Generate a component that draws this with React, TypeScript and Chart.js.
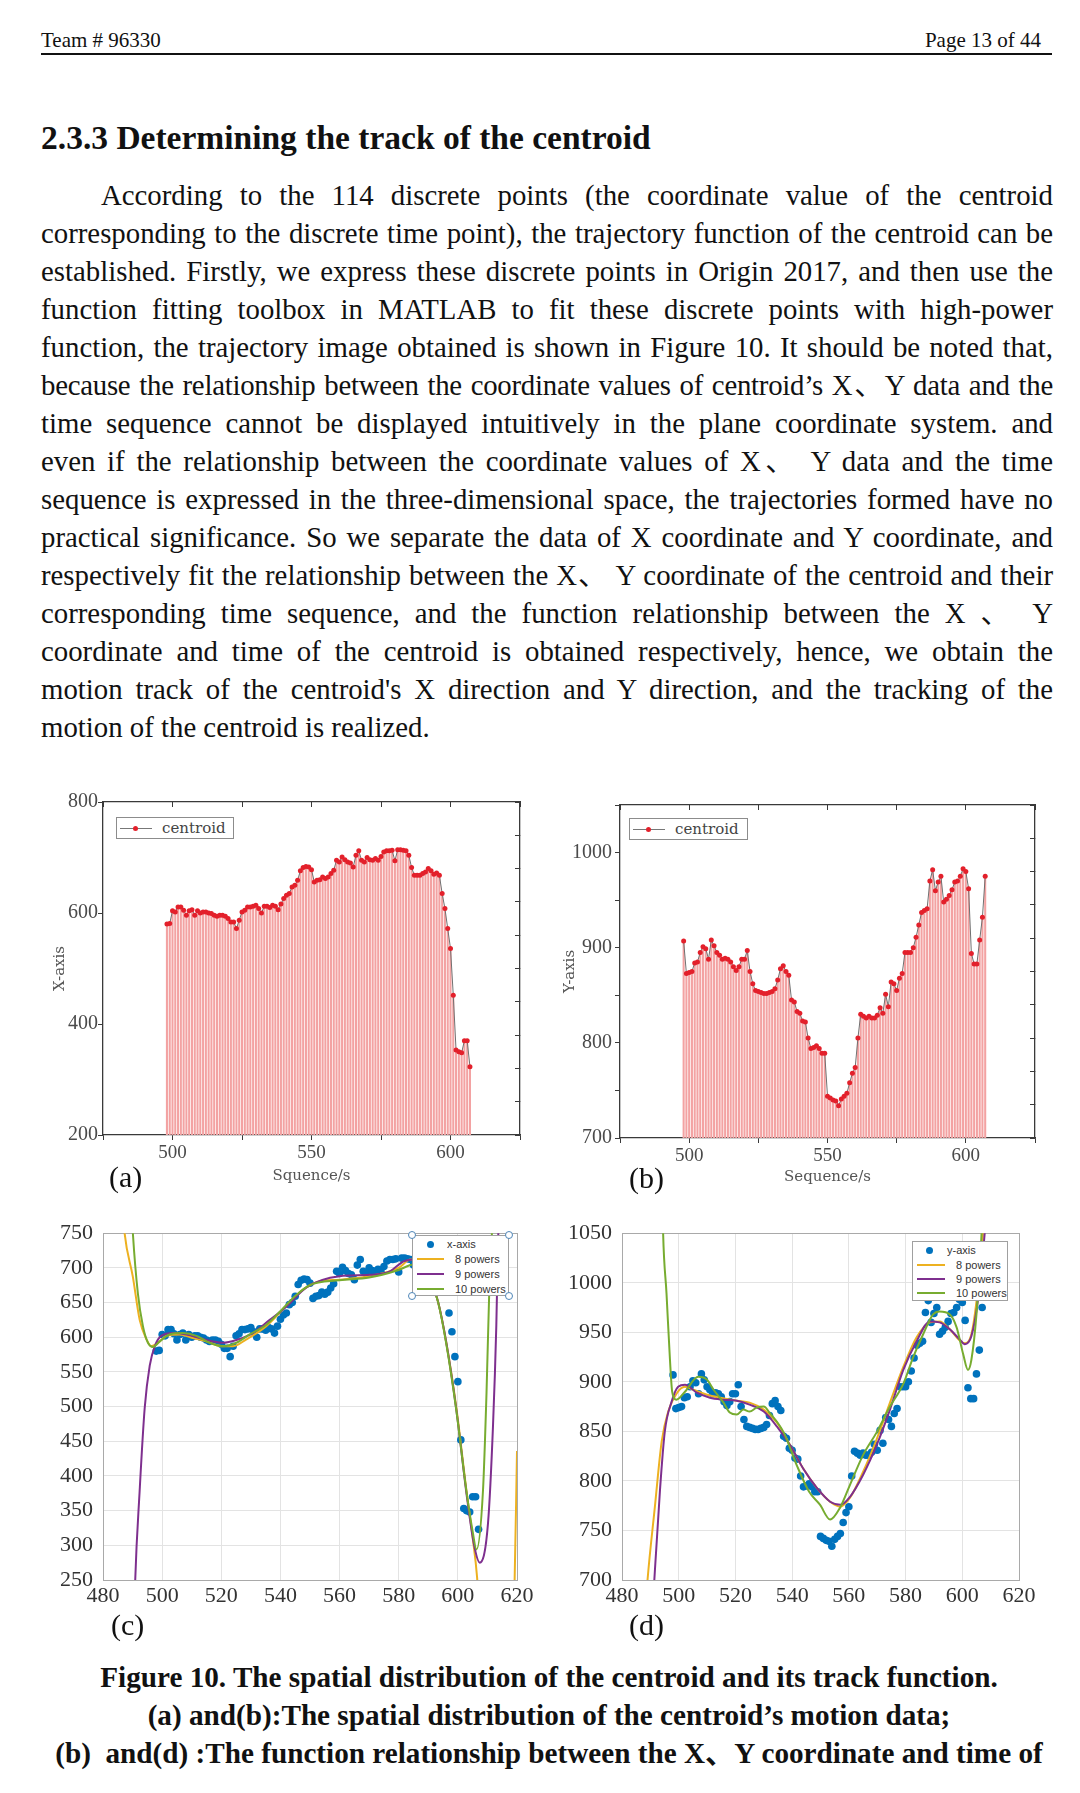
import React, { useEffect, useRef } from 'react';
import { Chart, registerables } from 'chart.js';

Chart.register(...registerables);

// ---------- data ----------
const seconds = [
  498, 499, 500, 501, 502, 503, 504, 505, 506, 507,
  508, 509, 510, 511, 512, 513, 514, 515, 516, 517,
  518, 519, 520, 521, 522, 523, 524, 525, 526, 527,
  528, 529, 530, 531, 532, 533, 534, 535, 536, 537,
  538, 539, 540, 541, 542, 543, 544, 545, 546, 547,
  548, 549, 550, 551, 552, 553, 554, 555, 556, 557,
  558, 559, 560, 561, 562, 563, 564, 565, 566, 567,
  568, 569, 570, 571, 572, 573, 574, 575, 576, 577,
  578, 579, 580, 581, 582, 583, 584, 585, 586, 587,
  588, 589, 590, 591, 592, 593, 594, 595, 596, 597,
  598, 599, 600, 601, 602, 603, 604, 605, 606, 607,
];

const xCoord = [
  580, 581, 604, 602, 611, 611, 605, 596, 604, 606,
  596, 604, 600, 602, 602, 600, 599, 596, 594, 596,
  596, 594, 590, 584, 584, 572, 587, 602, 605, 611,
  611, 612, 614, 608, 600, 612, 612, 610, 614, 612,
  606, 616, 626, 632, 635, 647, 650, 659, 676, 682,
  684, 683, 678, 656, 659, 660, 665, 662, 665, 671,
  677, 695, 692, 701, 696, 692, 690, 683, 704, 712,
  695, 692, 700, 696, 695, 698, 695, 702, 710, 712,
  712, 713, 694, 714, 714, 713, 712, 704, 682, 668,
  668, 668, 671, 674, 680, 676, 670, 672, 668, 635,
  608, 572, 536, 452, 353, 350, 348, 370, 370, 323,
];

const yCoord = [
  907, 873, 874, 875, 884, 885, 895, 901, 899, 888,
  908, 902, 895, 892, 888, 889, 888, 885, 880, 876,
  880, 888, 888, 897, 875, 862, 855, 854, 853, 852,
  852, 853, 854, 857, 866, 878, 881, 875, 871, 845,
  843, 833, 831, 823, 822, 805, 794, 795, 797, 794,
  789, 789, 744, 742, 740, 739, 734, 741, 744, 747,
  758, 768, 774, 805, 830, 828, 826, 828, 826, 826,
  829, 837, 831, 851, 838, 864, 862, 855, 868, 873,
  895, 895, 895, 900, 911, 924, 937, 939, 941, 970,
  982, 960, 969, 975, 948, 951, 955, 961, 969, 970,
  975, 983, 980, 962, 894, 883, 883, 908, 932, 975,
];

// fitted curves: X coordinate
const fitX8Sec = [486, 487.3, 490.1, 492.4, 494.7, 496.3, 498.6, 501.4, 505.9, 510.4, 514.9, 520.6, 524, 528.5, 535.2, 539.7, 544.3, 548.8, 552.7, 560, 570, 580, 584, 588, 591, 593.3, 596.1, 599.5, 602.9, 605.1, 606.5, 608, 617, 619.2, 620, 620.5];
const fitX8Val = [820, 750, 687, 625, 597, 587, 592, 602, 604, 599, 594, 587, 587, 597, 616, 635, 656, 672, 680, 683, 688, 700, 712, 708, 680, 651, 592, 498, 379, 308, 254, 150, 150, 250, 436, 540];
const fitX9Sec = [490.5, 490.9, 492.4, 494.1, 495.8, 497.5, 499.7, 503.7, 508.2, 512.7, 517.2, 520.6, 525.1, 530.7, 536.4, 542, 548.8, 560, 570, 577, 582, 587, 590, 593.3, 596.1, 599.5, 602.9, 605.5, 607.4, 610.2, 611.9, 613, 613.6, 614.2];
const fitX9Val = [180, 250, 379, 498, 559, 587, 602, 606, 604, 599, 594, 592, 596, 606, 625, 644, 672, 688, 690, 695, 710, 712, 690, 651, 592, 495, 375, 300, 275, 332, 474, 616, 738, 800];
const fitX10Sec = [489.5, 490.1, 491.8, 493.5, 495.2, 496.9, 499.2, 502.5, 507, 511.6, 516, 520.6, 525.1, 529.6, 535.2, 540.3, 545.4, 549.9, 560, 570, 580, 585, 588, 591, 593.3, 596.1, 599.5, 602.9, 605, 606.3, 608.5, 609.7, 610.6, 611.4, 612];
const fitX10Val = [800, 750, 663, 616, 592, 586, 594, 604, 606, 602, 592, 587, 592, 604, 618, 639, 661, 675, 682, 686, 697, 705, 703, 680, 651, 590, 494, 378, 320, 294, 379, 521, 663, 738, 800];

// fitted curves: Y coordinate
const fitY8Sec = [488.5, 489, 491.6, 494, 496.3, 499.2, 502.2, 505.2, 510, 514.6, 520.5, 525, 530, 534.6, 539.3, 544, 548.7, 553.4, 557, 560.4, 565, 569.8, 574.5, 579.2, 583.9, 588.6, 592, 595.6, 599, 600.9, 603.2, 605, 607.3, 608];
const fitY8Val = [680, 700, 774, 840, 870, 888, 895, 892, 887, 884, 881, 879, 872, 859, 836, 812, 793, 779, 774, 783, 809, 842, 879, 915, 945, 960, 961, 953, 942, 939, 948, 981, 1050, 1080];
const fitY9Sec = [491, 491.4, 493.4, 495.1, 497.5, 499.8, 502.2, 506.4, 511, 515.8, 520.5, 525, 530, 534.6, 539.3, 544, 548.7, 553.4, 557, 560.4, 565, 569.8, 574.5, 579.2, 583.9, 588.6, 592, 595.6, 599, 600.9, 603.2, 605.6, 607.9, 608.5];
const fitY9Val = [680, 700, 791, 850, 880, 895, 897, 889, 884, 882, 881, 877, 870, 855, 836, 812, 793, 779, 776, 784, 806, 836, 872, 912, 941, 961, 960, 953, 943, 938, 946, 984, 1050, 1080];
const fitY10Sec = [494.3, 494.5, 495.7, 496.9, 497.7, 499.2, 502.2, 506.9, 510, 512.3, 515.8, 518, 520.5, 522.8, 525, 527.5, 530, 532, 537, 541.6, 546, 549.8, 553.4, 556.9, 560.4, 565, 569.8, 574.5, 579.2, 582.7, 586.2, 589.7, 592, 595.6, 598, 600.3, 602, 603.2, 605, 606.8, 607.2];
const fitY10Val = [1080, 1050, 989, 923, 890, 882, 890, 905, 902, 892, 879, 869, 867, 872, 870, 874, 875, 869, 849, 816, 789, 776, 761, 773, 796, 826, 849, 875, 898, 925, 948, 968, 971, 968, 955, 928, 912, 922, 968, 1050, 1080];

const originXTicks = [500, 550, 600];

const paragraphLines = [
  'According to the 114 discrete points (the coordinate value of the centroid',
  'corresponding to the discrete time point), the trajectory function of the centroid can be',
  'established. Firstly, we express these discrete points in Origin 2017, and then use the',
  'function fitting toolbox in MATLAB to fit these discrete points with high-power',
  'function, the trajectory image obtained is shown in Figure 10. It should be noted that,',
  'because the relationship between the coordinate values of centroid\u2019s X\u3001Y data and the',
  'time sequence cannot be displayed intuitively in the plane coordinate system. and',
  'even if the relationship between the coordinate values of X\u3001 Y data and the time',
  'sequence is expressed in the three-dimensional space, the trajectories formed have no',
  'practical significance. So we separate the data of X coordinate and Y coordinate, and',
  'respectively fit the relationship between the X\u3001 Y coordinate of the centroid and their',
  'corresponding time sequence, and the function relationship between the X \u3001 Y',
  'coordinate and time of the centroid is obtained respectively, hence, we obtain the',
  'motion track of the centroid\'s X direction and Y direction, and the tracking of the',
  'motion of the centroid is realized.',
];

const captionLines = [
  'Figure 10. The spatial distribution of the centroid and its track function.',
  '(a) and(b):The spatial distribution of the centroid\u2019s motion data;',
  '(b)  and(d) :The function relationship between the X\u3001Y coordinate and time of',
];

// ---------- styling constants ----------
const SERIF = '"Liberation Serif", "Times New Roman", "Noto Sans CJK SC", serif';
const ORIGIN_FONT = '"DejaVu Serif", serif';
const SANS = '"Liberation Sans", Arial, sans-serif';
const C8 = '#EDB120';
const C9 = '#7E2F8E';
const C10 = '#77AC30';
const CDOT = '#0072BD';

const toPts = (xs: number[], ys: number[]) => xs.map((x, i) => ({ x, y: ys[i] }));

function originConfig(values: number[], o: any): any {
  const data = toPts(seconds, values);
  const axisColor = '#3a3a3a';
  const tickFontX = { family: SERIF, size: 19 };
  const tickFontY = { family: SERIF, size: 20 };
  return {
    type: 'bar',
    data: {
      datasets: [
        {
          type: 'line', label: 'centroid', data, borderColor: '#707070', borderWidth: 1,
          pointRadius: 2.5, pointBackgroundColor: '#e3202b', pointBorderColor: '#e3202b', pointBorderWidth: 0,
          order: 0, xAxisID: 'x', yAxisID: 'y',
        },
        {
          type: 'bar', label: 'drop', data, backgroundColor: '#f3a2a2', barThickness: 1.4,
          order: 1, xAxisID: 'x', yAxisID: 'y',
        },
      ],
    },
    options: {
      responsive: false, animation: false, events: [],
      layout: { padding: { top: o.padTop, right: o.padRight, left: 0, bottom: 0 } },
      plugins: { legend: { display: false }, tooltip: { enabled: false } },
      scales: {
        x: {
          type: 'linear', position: 'bottom', min: 475, max: 625, offset: false,
          ticks: {
            stepSize: 25, autoSkip: false, maxRotation: 0, minRotation: 0, color: '#4a4a4a', font: tickFontX, padding: 2,
            callback: (v: number) => (originXTicks.includes(v) ? String(v) : ''),
          },
          grid: { drawOnChartArea: false, offset: false, tickLength: 5, color: axisColor },
          border: { color: axisColor, width: 1.3 },
          title: { display: true, text: o.xTitle, color: '#555', font: { family: ORIGIN_FONT, size: 15 }, padding: { top: 0, bottom: o.xTitlePad } },
          afterFit: (s: any) => { s.height = o.xHeight; },
        },
        x2: {
          type: 'linear', position: 'top', min: 475, max: 625, offset: false,
          ticks: { display: false, stepSize: 25 },
          grid: { drawOnChartArea: false, offset: false, tickLength: -5, color: axisColor },
          border: { color: axisColor, width: 1.3 },
          afterFit: (s: any) => { s.height = 0; },
        },
        y: {
          type: 'linear', position: 'left', min: o.yMin, max: o.yMax,
          ticks: {
            stepSize: o.yStep, color: '#4a4a4a', font: tickFontY, padding: o.yLabelPad,
            callback: (v: number) => (o.yLabels.includes(v) ? String(v) : ''),
          },
          grid: { drawOnChartArea: false, tickLength: 5, color: axisColor },
          border: { color: axisColor, width: 1.3 },
          title: { display: true, text: o.yTitle, color: '#555', font: { family: ORIGIN_FONT, size: 15 }, padding: { top: o.yTitlePad, bottom: 0 } },
          afterFit: (s: any) => { s.width = o.yWidth; },
        },
        y2: {
          type: 'linear', position: 'right', min: o.yMin, max: o.yMax,
          ticks: { display: false, stepSize: (o.yMax - o.yMin) / 10 },
          grid: { drawOnChartArea: false, tickLength: -5, color: axisColor },
          border: { color: axisColor, width: 1.3 },
          afterFit: (s: any) => { s.width = 0; },
        },
      },
    },
  };
}

function matlabConfig(values: number[], fits: any[], o: any): any {
  const tickFont = { family: SERIF, size: 22 };
  const gridColor = '#e3e3e3';
  const boxColor = '#a9a9a9';
  return {
    type: 'scatter',
    data: {
      datasets: [
        {
          label: o.dotLabel, data: toPts(seconds, values), showLine: false,
          pointRadius: 3.8, pointBackgroundColor: CDOT, pointBorderColor: CDOT, pointBorderWidth: 0, order: 4,
        },
        ...fits.map((f: any, i: number) => ({
          label: f.label, data: toPts(f.xs, f.ys), showLine: true, borderColor: f.color, backgroundColor: f.color,
          borderWidth: 2, pointRadius: 0, cubicInterpolationMode: 'monotone', fill: false, order: 3 - i,
        })),
      ],
    },
    options: {
      responsive: false, animation: false, events: [],
      layout: { padding: { top: o.padTop, right: o.padRight, left: 0, bottom: 0 } },
      plugins: { legend: { display: false }, tooltip: { enabled: false } },
      scales: {
        x: {
          type: 'linear', position: 'bottom', min: 480, max: 620,
          ticks: { stepSize: 20, autoSkip: false, maxRotation: 0, minRotation: 0, color: '#333', font: tickFont, padding: 3, callback: (v: number) => String(v) },
          grid: { color: gridColor, drawTicks: false },
          border: { color: boxColor },
          afterFit: (s: any) => { s.height = 35; },
        },
        x2: {
          type: 'linear', position: 'top', min: 480, max: 620,
          ticks: { display: false }, grid: { display: false }, border: { color: boxColor },
          afterFit: (s: any) => { s.height = 0; },
        },
        y: {
          type: 'linear', position: 'left', min: o.yMin, max: o.yMax,
          ticks: { stepSize: 50, autoSkip: false, color: '#333', font: tickFont, padding: 10, callback: (v: number) => String(v) },
          grid: { color: gridColor, drawTicks: false },
          border: { color: boxColor },
          afterFit: (s: any) => { s.width = o.yWidth; },
        },
        y2: {
          type: 'linear', position: 'right', min: o.yMin, max: o.yMax,
          ticks: { display: false }, grid: { display: false }, border: { color: boxColor },
          afterFit: (s: any) => { s.width = 0; },
        },
      },
    },
  };
}

function ChartCanvas({ left, top, width, height, make }: any) {
  const ref = useRef<HTMLCanvasElement | null>(null);
  useEffect(() => {
    const chart = new Chart(ref.current as HTMLCanvasElement, make());
    return () => chart.destroy();
  }, []);
  return (
    <canvas ref={ref} width={width} height={height}
      style={{ position: 'absolute', left, top, width, height, display: 'block' }} />
  );
}

function Line({ x, y, w, size, lh, bold, align, children, family }: any) {
  return (
    <div style={{
      position: 'absolute', left: x, top: y - lh / 2, width: w, height: lh, lineHeight: `${lh}px`,
      fontSize: size, fontWeight: bold ? 'bold' : 'normal', textAlign: align || 'left',
      whiteSpace: 'pre', fontFamily: family || SERIF,
    }}>{children}</div>
  );
}

function OriginLegend({ left, top, width }: any) {
  return (
    <div style={{ position: 'absolute', left, top, width, height: 22, boxSizing: 'border-box', border: '1px solid #8c8c8c', background: '#fff' }}>
      <div style={{ position: 'absolute', left: 3, top: 10, width: 32, height: 1, background: '#777' }} />
      <div style={{ position: 'absolute', left: 16, top: 8, width: 5, height: 5, borderRadius: '50%', background: '#e3202b' }} />
      <div style={{ position: 'absolute', left: 45, top: 0, height: 20, lineHeight: '20px', fontFamily: ORIGIN_FONT, fontSize: 15, color: '#444' }}>centroid</div>
    </div>
  );
}

function MatlabLegend({ left, top, width, height, rows, dotLabel, handles }: any) {
  const entries = [
    { label: '8 powers', color: C8 },
    { label: '9 powers', color: C9 },
    { label: '10 powers', color: C10 },
  ];
  const handle = (hx: number, hy: number, k: number) => (
    <div key={k} style={{ position: 'absolute', left: hx - 4, top: hy - 4, width: 8, height: 8, boxSizing: 'border-box', borderRadius: '50%', border: '1.5px solid #4f86b8', background: '#fff' }} />
  );
  return (
    <div style={{ position: 'absolute', left, top, width, height }}>
      <div style={{ position: 'absolute', left: 0, top: 0, width, height, boxSizing: 'border-box', border: '1px solid #a0a0a0', background: '#fff' }} />
      <div style={{ position: 'absolute', left: rows.dotX - 3.5, top: rows.y[0] - 3.5, width: 7, height: 7, borderRadius: '50%', background: CDOT }} />
      <div style={{ position: 'absolute', left: rows.textX0, top: rows.y[0] - 7, lineHeight: '14px', fontFamily: SANS, fontSize: 11, color: '#333' }}>{dotLabel}</div>
      {entries.map((e, i) => (
        <React.Fragment key={e.label}>
          <div style={{ position: 'absolute', left: rows.lineX, top: rows.y[i + 1] - 1, width: rows.lineW, height: 2, background: e.color }} />
          <div style={{ position: 'absolute', left: rows.textX, top: rows.y[i + 1] - 7, lineHeight: '14px', fontFamily: SANS, fontSize: 11, color: '#333', whiteSpace: 'pre' }}>{e.label}</div>
        </React.Fragment>
      ))}
      {handles ? [handle(0, 0, 1), handle(width, 0, 2), handle(0, height, 3), handle(width, height, 4)] : null}
    </div>
  );
}

export default function App() {
  const lineCenter0 = 194.5;
  const lineStep = 38;
  return (
    <div style={{ position: 'absolute', left: 0, top: 0, width: 1080, height: 1793, background: '#fff', color: '#111', fontFamily: SERIF, overflow: 'hidden' }}>
      {/* header */}
      <Line x={41} y={40} w={300} size={21} lh={26}>Team # 96330</Line>
      <Line x={741} y={40} w={300} size={21} lh={26} align="right">Page 13 of 44</Line>
      <div style={{ position: 'absolute', left: 41, top: 53, width: 1011, height: 2, background: '#111' }} />

      {/* section title */}
      <Line x={41} y={138} w={900} size={33.5} lh={40} bold>2.3.3 Determining the track of the centroid</Line>

      {/* paragraph */}
      {paragraphLines.map((t, i) => {
        const last = i === paragraphLines.length - 1;
        const left = i === 0 ? 101 : 41;
        return (
          <div key={i} style={{
            position: 'absolute', left, top: lineCenter0 + i * lineStep - 19, width: 1053 - left, height: 38,
            lineHeight: '38px', fontSize: 28.8, textAlign: last ? 'left' : 'justify', textAlignLast: last ? 'left' : 'justify',
            letterSpacing: i === 5 ? '-0.25px' : 'normal', overflow: 'visible',
          } as any}>{t}</div>
        );
      })}

      {/* chart (a) */}
      <ChartCanvas left={40} top={790} width={495} height={405} make={() => originConfig(xCoord, {
        padTop: 12, padRight: 15, xHeight: 60, yWidth: 63, yMin: 200, yMax: 800, yStep: 200, yLabels: [200, 400, 600, 800],
        yLabelPad: 0, xTitle: 'Squence/s', yTitle: 'X-axis', xTitlePad: 9.6, yTitlePad: 11.6,
      })} />
      <OriginLegend left={116} top={817} width={118} />
      <Line x={109} y={1177} w={60} size={30} lh={36}>(a)</Line>

      {/* chart (b) */}
      <ChartCanvas left={555} top={790} width={495} height={405} make={() => originConfig(yCoord, {
        padTop: 13, padRight: 15, xHeight: 57, yWidth: 65, yMin: 700, yMax: 1050, yStep: 50, yLabels: [700, 800, 900, 1000],
        yLabelPad: 3, xTitle: 'Sequence/s', yTitle: 'Y-axis', xTitlePad: 8.6, yTitlePad: 6.6,
      })} />
      <OriginLegend left={629} top={818} width={119} />
      <Line x={629} y={1178} w={60} size={30} lh={36}>(b)</Line>

      {/* chart (c) */}
      <ChartCanvas left={40} top={1210} width={500} height={405} make={() => matlabConfig(xCoord, [
        { label: '8 powers', color: C8, xs: fitX8Sec, ys: fitX8Val },
        { label: '9 powers', color: C9, xs: fitX9Sec, ys: fitX9Val },
        { label: '10 powers', color: C10, xs: fitX10Sec, ys: fitX10Val },
      ], { padTop: 17, padRight: 23, yWidth: 63, yMin: 250, yMax: 750, dotLabel: 'x-axis' })} />
      <MatlabLegend left={412} top={1235} width={97} height={61} dotLabel="x-axis" handles
        rows={{ y: [9, 24, 39, 54], dotX: 18, textX0: 35, lineX: 5, lineW: 27, textX: 43 }} />
      <Line x={111} y={1625} w={60} size={30} lh={36}>(c)</Line>

      {/* chart (d) */}
      <ChartCanvas left={555} top={1210} width={490} height={405} make={() => matlabConfig(yCoord, [
        { label: '8 powers', color: C8, xs: fitY8Sec, ys: fitY8Val },
        { label: '9 powers', color: C9, xs: fitY9Sec, ys: fitY9Val },
        { label: '10 powers', color: C10, xs: fitY10Sec, ys: fitY10Val },
      ], { padTop: 17, padRight: 26, yWidth: 67, yMin: 700, yMax: 1050, dotLabel: 'y-axis' })} />
      <MatlabLegend left={912} top={1241} width={96} height={60} dotLabel="y-axis" handles={false}
        rows={{ y: [9, 24, 38, 52], dotX: 17, textX0: 35, lineX: 5, lineW: 28, textX: 44 }} />
      <Line x={629} y={1625} w={60} size={30} lh={36}>(d)</Line>

      {/* caption */}
      {captionLines.map((t, i) => (
        <Line key={i} x={0} y={1677 + i * 38} w={1098} size={29.2} lh={38} bold align="center">{t}</Line>
      ))}
    </div>
  );
}
